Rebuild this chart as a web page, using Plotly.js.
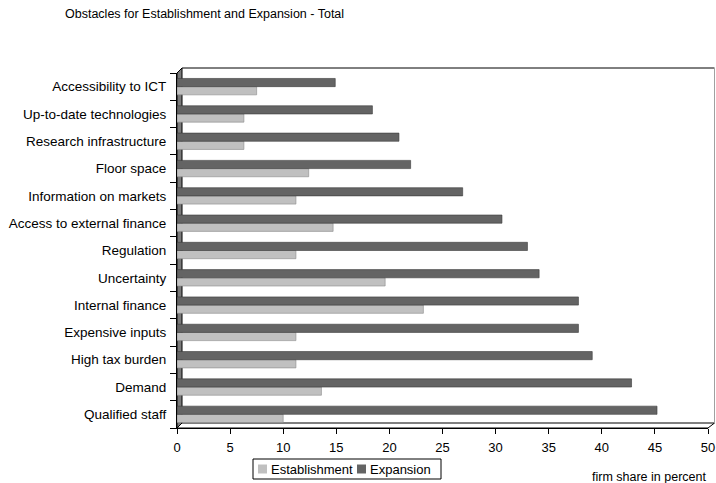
<!DOCTYPE html>
<html>
<head>
<meta charset="utf-8">
<script src="https://cdn.plot.ly/plotly-3.0.1.min.js"></script>
<style>
  html, body { margin: 0; padding: 0; background: #fff; }
  #chart { width: 716px; height: 483px; }
</style>
</head>
<body>
<div id="chart"></div>
<script>
// Obstacles, listed from the bottom row of the chart to the top row
var obstacles = [
  "Qualified staff",
  "Demand",
  "High tax burden",
  "Expensive inputs",
  "Internal finance",
  "Uncertainty",
  "Regulation",
  "Access to external finance",
  "Information on markets",
  "Floor space",
  "Research infrastructure",
  "Up-to-date technologies",
  "Accessibility to ICT"
];

// Firm share in percent
var establishment = [10.0, 13.6, 11.2, 11.2, 23.2, 19.6, 11.2, 14.7, 11.2, 12.4, 6.3, 6.3, 7.5];
var expansion     = [45.2, 42.8, 39.1, 37.8, 37.8, 34.1, 33.0, 30.6, 26.9, 22.0, 20.9, 18.4, 14.9];

var xTicks = [0, 5, 10, 15, 20, 25, 30, 35, 40, 45, 50];

var seriesNames  = ["Establishment", "Expansion"];
var seriesColors = ["#c0c0c0", "#646464"];
var seriesEdges  = ["#8a8a8a", "#3a3a3a"];

var font = "Liberation Sans, Arial, Helvetica, sans-serif";

// plot area geometry (px) and helpers converting page px to paper units
var L = 177, R = 708, T = 73, B = 428;
var plotW = R - L, plotH = B - T;
function px(x) { return (x - L) / plotW; }
function py(y) { return (B - y) / plotH; }
var dx = px(L + 5), dy = py(B - 5);   // 3-D depth offset of the frame

var traces = [establishment, expansion].map(function (vals, i) {
  return {
    type: "bar", orientation: "h", name: seriesNames[i],
    y: obstacles, x: vals, showlegend: false,
    marker: { color: seriesColors[i], line: { color: seriesEdges[i], width: 0.6 } }
  };
});

var shapes = [
  // left side wall
  {
    type: "path", xref: "paper", yref: "paper", layer: "below",
    path: "M 0 0 L 0 1 L " + dx + " " + (1 + dy) + " L " + dx + " " + dy + " Z",
    fillcolor: "#7a7a7a", line: { color: "#000", width: 1 }
  },
  // floor
  {
    type: "path", xref: "paper", yref: "paper", layer: "below",
    path: "M 0 0 L 1 0 L " + px(714.5) + " " + py(423) + " L " + dx + " " + dy + " Z",
    fillcolor: "#ffffff", line: { color: "#000", width: 1 }
  },
  // back wall: top edge
  {
    type: "line", xref: "paper", yref: "paper", layer: "below",
    x0: dx, x1: px(714.5), y0: 1 + dy, y1: 1 + dy,
    line: { color: "#000", width: 1 }
  },
  // back wall: right edge
  {
    type: "line", xref: "paper", yref: "paper", layer: "below",
    x0: px(714.5), x1: px(714.5), y0: dy, y1: 1 + dy,
    line: { color: "#a0a0a0", width: 1 }
  },
  // legend frame
  {
    type: "rect", xref: "paper", yref: "paper",
    x0: px(253), x1: px(441), y0: py(459), y1: py(479),
    fillcolor: "#ffffff", line: { color: "#000", width: 1 }
  }
];

var annotations = [
  {
    text: "firm share in percent", showarrow: false,
    xref: "paper", x: px(708), xanchor: "right",
    yref: "paper", y: py(477), yanchor: "middle",
    font: { family: font, size: 12.5, color: "#000" }
  }
];

// legend entries: swatch + label
var legendSwatchX = [258, 357];
legendSwatchX.forEach(function (sx, i) {
  shapes.push({
    type: "rect", xref: "paper", yref: "paper",
    x0: px(sx), x1: px(sx + 9), y0: py(464.5), y1: py(473.5),
    fillcolor: seriesColors[i], line: { width: 0 }
  });
  annotations.push({
    text: seriesNames[i], showarrow: false,
    xref: "paper", x: px(sx + 11), xanchor: "left",
    yref: "paper", y: py(469), yanchor: "middle",
    font: { family: font, size: 13, color: "#000" }
  });
});

var layout = {
  width: 716, height: 483,
  margin: { l: L, r: 716 - R, t: T, b: 483 - B },
  paper_bgcolor: "#ffffff", plot_bgcolor: "rgba(0,0,0,0)",
  font: { family: font, size: 13, color: "#000" },
  barmode: "group", bargap: 0.4, bargroupgap: 0,
  showlegend: false,
  title: {
    text: "Obstacles for Establishment and Expansion - Total",
    font: { family: font, size: 12.5, color: "#000" },
    xref: "container", x: 65 / 716, xanchor: "left",
    yref: "container", y: 1 - 14 / 483, yanchor: "middle"
  },
  xaxis: {
    range: [0, 50], tickvals: xTicks, ticktext: xTicks.map(String),
    showgrid: false, zeroline: false,
    showline: true, linecolor: "#000", linewidth: 1,
    ticks: "outside", ticklen: 5, tickcolor: "#000",
    ticklabelstandoff: 2, ticklabeloverflow: "allow",
    tickfont: { family: font, size: 13, color: "#000" }
  },
  yaxis: {
    type: "category", categoryorder: "array", categoryarray: obstacles,
    showgrid: false, zeroline: false,
    showline: true, linecolor: "#000", linewidth: 1,
    ticks: "outside", ticklen: 6, tickcolor: "#000", tickson: "boundaries",
    ticklabelstandoff: 7,
    tickfont: { family: font, size: 13.5, color: "#000" }
  },
  annotations: annotations,
  shapes: shapes
};

Plotly.newPlot("chart", traces, layout, { displayModeBar: false, staticPlot: true });
</script>
</body>
</html>
